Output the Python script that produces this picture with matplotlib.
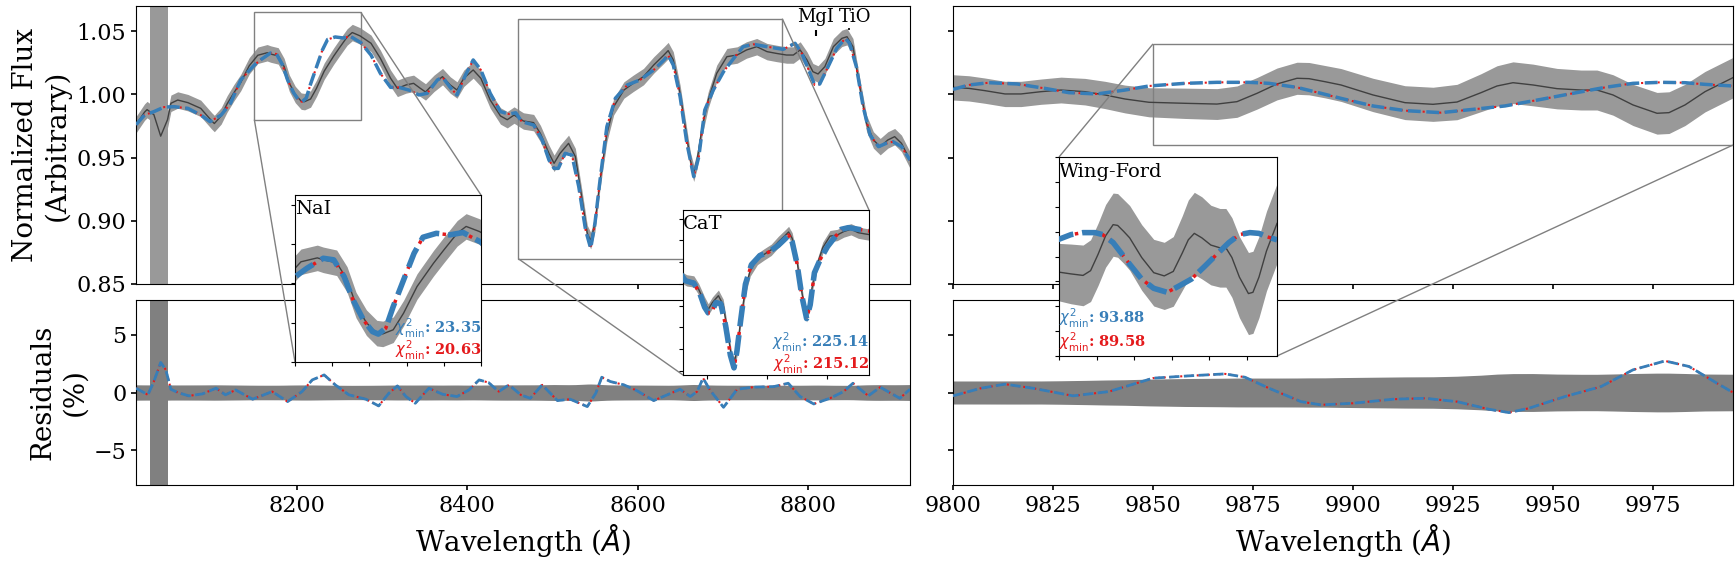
"""Spectral fit around the NaI / CaT region and the Wing-Ford band,
with residuals underneath and zoomed insets on the key features."""
import numpy as np
import matplotlib
matplotlib.use("Agg")
import matplotlib.pyplot as plt
from matplotlib.ticker import MultipleLocator
from mpl_toolkits.axes_grid1.inset_locator import mark_inset

plt.rcParams["font.family"] = "serif"
plt.rcParams["font.serif"] = ["DejaVu Serif"]

# ---- left window: observed spectrum (8010-8920 A) -------------------------
wl_obs_l = [8011, 8021, 8024, 8032, 8040, 8048, 8052, 8060, 8072, 8087,
            8100, 8103, 8111, 8118, 8126, 8134, 8144, 8154, 8165, 8169,
            8178, 8185, 8191, 8198, 8205, 8209, 8216, 8223, 8232, 8243,
            8250, 8259, 8265, 8274, 8287, 8298, 8310, 8318, 8328, 8337,
            8345, 8351, 8361, 8371, 8380, 8388, 8396, 8407, 8416, 8427,
            8439, 8447, 8455, 8466, 8478, 8486, 8496, 8502, 8509, 8519,
            8527, 8535, 8541, 8545, 8550, 8556, 8564, 8572, 8584, 8595,
            8607, 8619, 8631, 8636, 8642, 8650, 8656, 8662, 8666, 8670,
            8676, 8683, 8693, 8705, 8717, 8728, 8740, 8752, 8763, 8775,
            8783, 8791, 8799, 8806, 8812, 8820, 8830, 8840, 8846, 8853,
            8861, 8869, 8877, 8885, 8894, 8902, 8910, 8920]
flux_obs_l = [0.976, 0.986, 0.988, 0.984, 0.967, 0.980, 0.993, 0.9956, 0.9935, 0.989,
              0.979, 0.977, 0.983, 0.9925, 1.0014, 1.0094, 1.0227, 1.031, 1.033, 1.032,
              1.0305, 1.022, 1.009, 1.000, 0.9947, 0.9943, 0.9964, 1.0049, 1.0184, 1.0302,
              1.037, 1.0455, 1.049, 1.0464, 1.0405, 1.0286, 1.0128, 1.0048, 1.0075, 1.0088,
              1.0048, 1.002, 1.0088, 1.0141, 1.0075, 1.0035, 1.0128, 1.0194, 1.0128, 0.9956,
              0.983, 0.980, 0.9837, 0.979, 0.9777, 0.969, 0.9534, 0.9455, 0.9534, 0.9613,
              0.9508, 0.9165, 0.890, 0.8843, 0.898, 0.9323, 0.969, 0.9903, 1.0035, 1.0088,
              1.0141, 1.0233, 1.0312, 1.0347, 1.0273, 1.0009, 0.9745, 0.9481, 0.9376, 0.9481,
              0.9745, 0.9956, 1.0167, 1.0299, 1.0312, 1.0352, 1.0378, 1.0339, 1.0325, 1.0312,
              1.0312, 1.0352, 1.0273, 1.018, 1.0162, 1.022, 1.0378, 1.0444, 1.0457, 1.0378,
              1.0062, 0.9771, 0.964, 0.9587, 0.964, 0.9666, 0.9613, 0.9481]
err_obs_l = 0.0065

# ---- left window: model fits ---------------------------------------------
wl_mod_l = [8011, 8021, 8032, 8044, 8056, 8072, 8087, 8098, 8111, 8122,
            8134, 8150, 8158, 8169, 8176, 8183, 8189, 8196, 8202, 8206,
            8211, 8216, 8223, 8230, 8236, 8245, 8254, 8263, 8270, 8275,
            8287, 8298, 8310, 8320, 8334, 8343, 8353, 8365, 8371, 8380,
            8388, 8398, 8407, 8416, 8427, 8439, 8449, 8457, 8464, 8478,
            8488, 8496, 8502, 8507, 8515, 8523, 8531, 8539, 8545, 8550,
            8556, 8564, 8574, 8588, 8603, 8619, 8631, 8636, 8642, 8650,
            8658, 8666, 8672, 8679, 8689, 8701, 8713, 8724, 8736, 8752,
            8771, 8785, 8793, 8801, 8808, 8814, 8822, 8834, 8844, 8849,
            8857, 8865, 8873, 8883, 8892, 8900, 8910, 8920]
flux_blue_l = [0.976, 0.9837, 0.9864, 0.990, 0.9903, 0.989, 0.9837, 0.9785, 0.9837, 0.993,
               1.0115, 1.0233, 1.0277, 1.0328, 1.032, 1.0235, 1.0116, 1.0014, 0.9955, 0.9942,
               0.9972, 1.0082, 1.0218, 1.0353, 1.0435, 1.0455, 1.0447, 1.0459, 1.043, 1.041,
               1.0312, 1.0167, 1.0056, 1.0056, 1.003, 0.9996, 1.0009, 1.0115, 1.0136, 1.0056,
               0.9996, 1.0154, 1.0273, 1.0194, 1.0009, 0.9864, 0.9845, 0.9855, 0.9785, 0.9758,
               0.964, 0.9481, 0.9415, 0.9415, 0.9534, 0.952, 0.927, 0.8927, 0.8782, 0.898,
               0.9323, 0.9745, 0.997, 1.0075, 1.0115, 1.0194, 1.0273, 1.0312, 1.0233, 0.9983,
               0.9613, 0.935, 0.9508, 0.9877, 1.0035, 1.018, 1.0286, 1.0378, 1.0397, 1.0378,
               1.0357, 1.0405, 1.0325, 1.0194, 1.0075, 1.0083, 1.0194, 1.0365, 1.0444, 1.0405,
               1.022, 0.9903, 0.968, 0.9587, 0.9613, 0.9626, 0.9587, 0.9481]
# the second model sits on top of the first to within a pixel
flux_red_l = list(flux_blue_l)

# ---- left window: residuals (%) -------------------------------------------
wl_res_l = [8011, 8025, 8032, 8040, 8046, 8052, 8060, 8073, 8089, 8105,
            8116, 8128, 8148, 8171, 8189, 8206, 8218, 8232, 8245, 8261,
            8281, 8296, 8308, 8318, 8328, 8339, 8355, 8371, 8388, 8402,
            8414, 8425, 8437, 8449, 8463, 8474, 8488, 8506, 8521, 8541,
            8551, 8558, 8568, 8584, 8599, 8619, 8635, 8650, 8662, 8670,
            8677, 8685, 8701, 8717, 8736, 8760, 8777, 8791, 8807, 8826,
            8842, 8853, 8871, 8885, 8908, 8920]
res_blue_l = [0.37, -0.2, 0.95, 2.6, 1.96, 0.28, 0.0, -0.29, -0.12, 0.37,
              -0.2, 0.22, -0.58, 0.08, -0.79, 0.08, 1.09, 1.52, 0.66, -0.2,
              -0.58, -1.16, -0.06, 0.57, -0.35, -0.93, 0.37, -0.15, -0.35, 0.22,
              1.09, 0.86, 0.08, 0.66, -0.21, -0.5, 0.66, -0.7, -0.58, -1.22,
              -0.06, 1.32, 0.95, 0.66, 0.17, -0.7, -0.2, 0.28, -0.35, 0.08,
              1.24, 0.22, -1.28, 0.28, 0.46, 0.51, 0.8, -0.35, -0.99, -0.5,
              0.08, 0.8, -0.29, 0.46, -0.5, 0.28]
res_red_l = list(res_blue_l)

# ---- right window: Wing-Ford region (9800-9995 A) -------------------------
wl_obs_r = [9800, 9804, 9808, 9813, 9817, 9822, 9827, 9833, 9838, 9843,
            9849, 9858, 9866, 9871, 9876, 9881, 9886, 9889, 9893, 9897,
            9905, 9913, 9920, 9926, 9932, 9936, 9940, 9945, 9951, 9957,
            9961, 9965, 9970, 9976, 9979, 9983, 9988, 9995]
flux_obs_r = [1.0056, 1.0048, 1.003, 1.0004, 1.0004, 1.0022, 1.0035, 1.0022, 0.9996, 0.9964,
              0.9938, 0.993, 0.9924, 0.9943, 1.0009, 1.0083, 1.0128, 1.0125, 1.0101, 1.0075,
              0.9996, 0.9935, 0.9922, 0.994, 1.0014, 1.0067, 1.0093, 1.0075, 1.0046, 1.0035,
              1.0035, 0.9996, 0.9917, 0.9851, 0.9856, 0.9917, 1.0022, 1.0133]
err_obs_r = [0.0100, 0.0100, 0.0100, 0.0100, 0.0100, 0.0100, 0.0102, 0.0105, 0.0108, 0.0110,
             0.0115, 0.0120, 0.0122, 0.0124, 0.0125, 0.0126, 0.0127, 0.0128, 0.0128, 0.0130,
             0.0132, 0.0134, 0.0135, 0.0140, 0.0150, 0.0160, 0.0165, 0.0165, 0.0160, 0.0158,
             0.0158, 0.0160, 0.0163, 0.0165, 0.0165, 0.0163, 0.0160, 0.0160]

wl_mod_r = [9800, 9804, 9809, 9816, 9823, 9829, 9836, 9843, 9849, 9858,
            9866, 9874, 9879, 9886, 9892, 9897, 9905, 9913, 9922, 9930,
            9938, 9947, 9955, 9963, 9970, 9977, 9983, 9988, 9995]
flux_blue_r = [1.004, 1.0075, 1.0093, 1.0083, 1.0048, 1.0014, 1.0004, 1.0035, 1.0067, 1.0088,
               1.0096, 1.0096, 1.0088, 1.0056, 1.0009, 0.9969, 0.9909, 0.9872, 0.9856, 0.9882,
               0.9909, 0.9961, 1.0009, 1.0056, 1.0088, 1.0096, 1.0093, 1.008, 1.0067]
flux_red_r = list(flux_blue_r)

wl_res_r = [9800, 9807, 9813, 9820, 9830, 9839, 9850, 9859, 9868, 9873,
            9879, 9887, 9892, 9900, 9910, 9918, 9926, 9934, 9939, 9944,
            9953, 9962, 9970, 9978, 9984, 9991, 9995]
res_blue_r = [-0.29, 0.37, 0.72, 0.37, -0.29, 0.08, 1.24, 1.44, 1.61, 1.32,
              0.37, -0.79, -1.07, -0.93, -0.58, -0.5, -0.79, -1.45, -1.74, -1.36,
              -0.35, 0.51, 1.96, 2.73, 2.25, 0.8, 0.0]
res_red_r = list(res_blue_r)

# masked telluric strip and line labels
mask_l = (8027, 8049)
line_labels = ["MgI", "TiO"]
line_label_wl = [8809, 8855]
line_mark_wl = [8810, 8848]

chi_nai = (23.35, 20.63)
chi_cat = (225.14, 215.12)
chi_wf = (93.88, 89.58)

BLUE = "#377eb8"
RED = "#e41a1c"
BAND = "#999999"
RBAND = "#808080"
INK = "0.25"


def draw_spec(ax, wl_o, fl_o, err, wl_m, blue, red, lw_b, lw_r):
    fl_o = np.asarray(fl_o)
    err = np.asarray(err)
    ax.fill_between(wl_o, fl_o - err, fl_o + err, color=BAND, lw=0, zorder=1)
    ax.plot(wl_o, fl_o, color=INK, lw=1.0, zorder=2)
    ax.plot(wl_m, red, color=RED, ls=":", lw=lw_r, zorder=3)
    ax.plot(wl_m, blue, color=BLUE, ls="--", lw=lw_b, zorder=4)


def draw_res(ax, wl_o, fl_o, err, wl_r, blue, red):
    fl_o = np.asarray(fl_o)
    pct = 100.0 * np.asarray(err) / fl_o * np.ones_like(fl_o)
    ax.fill_between(wl_o, -pct, pct, color=RBAND, lw=0, zorder=1)
    ax.plot(wl_r, red, color=RED, ls=":", lw=1.5, zorder=3)
    ax.plot(wl_r, blue, color=BLUE, ls="--", lw=2.0, zorder=4)


def chi_text(axi, x, ha, yb, yr, vals):
    axi.text(x, yb, r"$\chi^2_{\rm min}$: %.2f" % vals[0], color=BLUE, ha=ha,
             va="baseline", fontsize=10.5, fontweight="bold", transform=axi.transAxes)
    axi.text(x, yr, r"$\chi^2_{\rm min}$: %.2f" % vals[1], color=RED, ha=ha,
             va="baseline", fontsize=10.5, fontweight="bold", transform=axi.transAxes)


W, H = 1736, 566
fig = plt.figure(figsize=(W / 100, H / 100), dpi=100)


def rect(x0, y0, x1, y1):
    return [x0 / W, 1 - y1 / H, (x1 - x0) / W, (y1 - y0) / H]


# residual axes first so the inset connectors drawn from the top axes stay visible
ax_rl = fig.add_axes(rect(136, 300, 910, 485))
ax_rr = fig.add_axes(rect(953, 300, 1733, 485))
ax_tl = fig.add_axes(rect(136, 6, 910, 284))
ax_tr = fig.add_axes(rect(953, 6, 1733, 284))

draw_spec(ax_tl, wl_obs_l, flux_obs_l, err_obs_l, wl_mod_l, flux_blue_l, flux_red_l, 2.5, 1.5)
draw_spec(ax_tr, wl_obs_r, flux_obs_r, err_obs_r, wl_mod_r, flux_blue_r, flux_red_r, 2.5, 1.5)
draw_res(ax_rl, wl_obs_l, flux_obs_l, err_obs_l, wl_res_l, res_blue_l, res_red_l)
draw_res(ax_rr, wl_obs_r, flux_obs_r, err_obs_r, wl_res_r, res_blue_r, res_red_r)

ax_tl.axvspan(*mask_l, color=BAND, lw=0, zorder=0.5)
ax_rl.axvspan(*mask_l, color=RBAND, lw=0, zorder=0.5)

for ax in (ax_tl, ax_tr):
    ax.set_ylim(0.85, 1.07)
    ax.yaxis.set_major_locator(MultipleLocator(0.05))
    ax.tick_params(labelbottom=False)
for ax in (ax_rl, ax_rr):
    ax.set_ylim(-8, 8)
    ax.set_yticks([-5, 0, 5])
    ax.set_xlabel(r"Wavelength ($\AA$)", fontsize=20)
for ax in (ax_tl, ax_rl):
    ax.set_xlim(8011, 8920)
    ax.xaxis.set_major_locator(MultipleLocator(200))
for ax in (ax_tr, ax_rr):
    ax.set_xlim(9800, 9995)
    ax.xaxis.set_major_locator(MultipleLocator(25))
    ax.tick_params(labelleft=False)
for ax in (ax_tl, ax_tr, ax_rl, ax_rr):
    ax.tick_params(labelsize=16, width=1.2)

ax_tl.set_ylabel("Normalized Flux\n(Arbitrary)", fontsize=20)
ax_rl.set_ylabel("Residuals\n(%)", fontsize=20)

for lab, xt in zip(line_labels, line_label_wl):
    ax_tl.text(xt, 1.054, lab, ha="center", va="bottom", fontsize=13)
ax_tl.vlines(line_mark_wl[0], 1.0461, 1.0514, color="k", lw=1.5)
ax_tl.vlines(line_mark_wl[1], 1.0512, 1.0522, color="k", lw=1.2)

# ---- insets ---------------------------------------------------------------
ins_nai = fig.add_axes(rect(295, 195, 481, 362))
ins_cat = fig.add_axes(rect(683, 210, 869, 375))
ins_wf = fig.add_axes(rect(1059, 157, 1277, 356))

draw_spec(ins_nai, wl_obs_l, flux_obs_l, err_obs_l, wl_mod_l, flux_blue_l, flux_red_l, 4, 2.5)
draw_spec(ins_cat, wl_obs_l, flux_obs_l, err_obs_l, wl_mod_l, flux_blue_l, flux_red_l, 4, 2.5)
draw_spec(ins_wf, wl_obs_r, flux_obs_r, err_obs_r, wl_mod_r, flux_blue_r, flux_red_r, 4, 2.5)

ins_nai.set_xlim(8150, 8275)
ins_nai.set_ylim(0.98, 1.065)
ins_nai.xaxis.set_major_locator(MultipleLocator(25))
ins_nai.yaxis.set_major_locator(MultipleLocator(0.02))

ins_cat.set_xlim(8460, 8770)
ins_cat.set_ylim(0.87, 1.06)
ins_cat.xaxis.set_major_locator(MultipleLocator(100))
ins_cat.yaxis.set_major_locator(MultipleLocator(0.025))

ins_wf.set_xlim(9850, 9995)
ins_wf.set_ylim(0.96, 1.04)
ins_wf.xaxis.set_major_locator(MultipleLocator(25))
ins_wf.yaxis.set_major_locator(MultipleLocator(0.01))

for axi, name in ((ins_nai, "NaI"), (ins_cat, "CaT"), (ins_wf, "Wing-Ford")):
    axi.tick_params(labelleft=False, labelbottom=False, length=3)
    axi.text(0.0, 0.97, name, transform=axi.transAxes, ha="left", va="top", fontsize=14)

chi_text(ins_nai, 1.0, "right", 0.168, 0.036, chi_nai)
chi_text(ins_cat, 1.0, "right", 0.167, 0.034, chi_cat)
chi_text(ins_wf, 0.0, "left", 0.164, 0.044, chi_wf)

mark_inset(ax_tl, ins_nai, loc1=1, loc2=3, fc="none", ec="0.5", lw=1)
mark_inset(ax_tl, ins_cat, loc1=1, loc2=3, fc="none", ec="0.5", lw=1)
mark_inset(ax_tr, ins_wf, loc1=2, loc2=4, fc="none", ec="0.5", lw=1)

fig.savefig("out.png", dpi=100)
